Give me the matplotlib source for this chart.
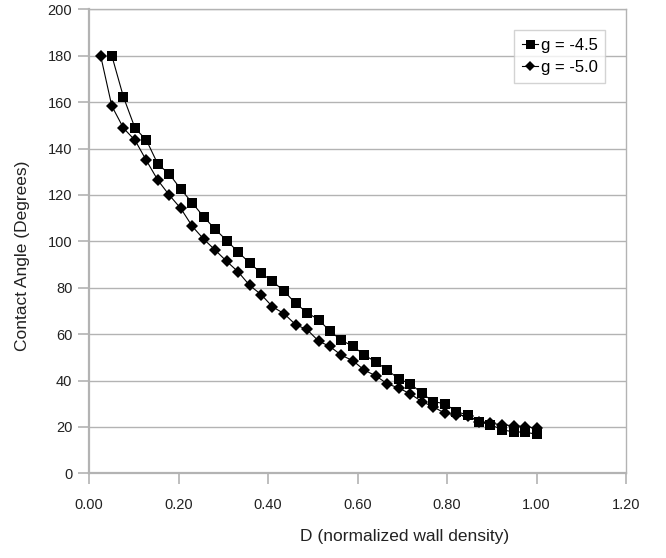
import matplotlib
matplotlib.use("Agg")
import matplotlib.pyplot as plt
from matplotlib.ticker import FormatStrFormatter

plt.rcParams['font.family'] = ['Liberation Sans', 'DejaVu Sans']

# normalized wall density D, 39 equal steps up to 1.0
D = [0.026, 0.051, 0.077, 0.103, 0.128, 0.154, 0.179, 0.205, 0.231, 0.256,
     0.282, 0.308, 0.333, 0.359, 0.385, 0.410, 0.436, 0.462, 0.487, 0.513,
     0.538, 0.564, 0.590, 0.615, 0.641, 0.667, 0.692, 0.718, 0.744, 0.769,
     0.795, 0.821, 0.846, 0.872, 0.897, 0.923, 0.949, 0.974, 1.000]

# g = -4.5 starts at the second D value
D_g45 = D[1:]
angle_g45 = [180.0, 162.2, 148.7, 143.7, 133.2, 129.1, 122.5, 116.5, 110.6, 105.2,
             100.3, 95.4, 90.7, 86.2, 82.8, 78.5, 73.2, 69.3, 66.2, 61.4,
             57.3, 54.8, 51.0, 48.0, 44.5, 40.7, 38.6, 34.5, 30.9, 30.0,
             26.6, 25.1, 22.2, 21.0, 18.8, 17.8, 17.8, 16.8]

# g = -5.0
D_g50 = D
angle_g50 = [180.0, 158.3, 148.8, 143.5, 134.9, 126.3, 120.0, 114.2, 106.4, 101.0,
             96.2, 91.3, 86.9, 81.0, 77.0, 71.8, 68.8, 64.0, 62.0, 57.0,
             54.7, 50.9, 48.5, 44.5, 42.0, 38.5, 36.8, 34.2, 30.9, 28.7,
             25.9, 25.3, 24.6, 22.3, 21.6, 20.9, 20.5, 20.1, 19.5]

grey = '#b3b3b3'

fig = plt.figure(figsize=(6.66, 5.58), dpi=100)
ax = fig.add_axes([89/666, 1 - 473.3/558, 537/666, 464/558])

ax.plot(D_g45, angle_g45, color='black', lw=0.8, marker='s', ms=7.2,
        markeredgewidth=0, label='g = -4.5')
ax.plot(D_g50, angle_g50, color='black', lw=0.8, marker='D', ms=6.0,
        markeredgewidth=0, label='g = -5.0')

ax.set_xlim(0, 1.2)
ax.set_ylim(0, 200)
ax.set_xticks([0, 0.2, 0.4, 0.6, 0.8, 1.0, 1.2])
ax.set_yticks(range(0, 201, 20))
ax.xaxis.set_major_formatter(FormatStrFormatter('%.2f'))
ax.yaxis.grid(True, color=grey, lw=1)
ax.set_axisbelow(True)

for side in ['left', 'bottom']:
    ax.spines[side].set_color(grey)
    ax.spines[side].set_linewidth(1.6)
for side in ['right', 'top']:
    ax.spines[side].set_color(grey)
    ax.spines[side].set_linewidth(1)

ax.tick_params(axis='both', color=grey, width=1.2, length=8, labelsize=10.5,
               labelcolor='#222222')
ax.tick_params(axis='y', pad=4)
ax.tick_params(axis='x', pad=10)

ax.set_xlabel('D (normalized wall density)', fontsize=12.5, color='#222222')
ax.set_ylabel('Contact Angle (Degrees)', fontsize=12.5, color='#222222')
ax.xaxis.set_label_coords(0.587, -0.12)
ax.yaxis.set_label_coords(-0.11, 0.468)

leg = ax.legend(loc='upper right', bbox_to_anchor=(0.961, 0.955), fontsize=12,
                frameon=True, fancybox=False, handlelength=1.0,
                handletextpad=0.15, borderpad=0.45, labelspacing=0.45,
                borderaxespad=0, markerscale=0.9)
leg.get_frame().set_edgecolor('#c8c8c8')
leg.get_frame().set_linewidth(1)

plt.savefig('out.png', dpi=100)
